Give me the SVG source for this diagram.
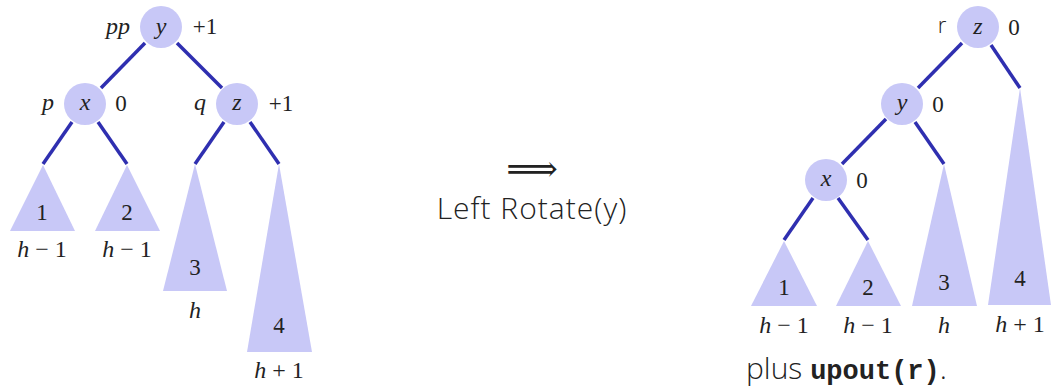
<svg xmlns="http://www.w3.org/2000/svg" width="1051" height="386" viewBox="0 0 1051 386">
<style>
.n{fill:#c8c8f7}
.t{fill:#c8c8f7}
.e{stroke:#2f2fb0;stroke-width:3.5;stroke-linecap:butt}
.m{font-family:"Liberation Serif","DejaVu Serif",serif;font-style:italic;font-size:24px;fill:#222;text-anchor:middle;dominant-baseline:central}
.r{font-family:"Liberation Serif","DejaVu Serif",serif;font-size:23px;fill:#222;text-anchor:middle;dominant-baseline:central}
.s{font-family:"Open Sans","Noto Sans",sans-serif;font-weight:300;font-size:30px;fill:#222}
.c{font-family:"Liberation Mono","DejaVu Sans Mono",monospace;font-weight:bold;font-size:27px;fill:#222}
</style>
<rect width="1051" height="386" fill="#fff"/>
<g id="connectors">
<line class="e" x1="145" y1="43" x2="101" y2="88"/>
<line class="e" x1="177" y1="43" x2="222" y2="88"/>
<line class="e" x1="72" y1="122" x2="43" y2="164"/>
<line class="e" x1="98" y1="122" x2="127" y2="164"/>
<line class="e" x1="224" y1="122" x2="195" y2="164"/>
<line class="e" x1="250" y1="122" x2="279" y2="164"/>
<line class="e" x1="962" y1="43" x2="918" y2="88"/>
<line class="e" x1="991" y1="45" x2="1020" y2="88"/>
<line class="e" x1="886" y1="119" x2="842" y2="164"/>
<line class="e" x1="915" y1="122" x2="944" y2="164"/>
<line class="e" x1="813" y1="198" x2="784" y2="240"/>
<line class="e" x1="838" y1="198" x2="868" y2="240"/>
</g>
<g id="left-y"><circle class="n" cx="161" cy="27" r="21"/><text class="m" x="161" y="26">y</text><text class="m" x="118" y="26">pp</text><text class="r" x="205" y="26">+1</text></g>
<g id="left-x"><circle class="n" cx="85" cy="104" r="21"/><text class="m" x="85" y="102">x</text><text class="m" x="48" y="102">p</text><text class="r" x="121" y="103">0</text></g>
<g id="left-z"><circle class="n" cx="237" cy="104" r="21"/><text class="m" x="237" y="102">z</text><text class="m" x="200" y="102">q</text><text class="r" x="281" y="103">+1</text></g>
<g id="left-t1"><polygon class="t" points="43,165 10,231 75,231"/><text class="r" x="42" y="212">1</text><text class="m" x="42" y="249">h<tspan font-style="normal"> − 1</tspan></text></g>
<g id="left-t2"><polygon class="t" points="127,165 95,231 160,231"/><text class="r" x="127" y="212">2</text><text class="m" x="127" y="249">h<tspan font-style="normal"> − 1</tspan></text></g>
<g id="left-t3"><polygon class="t" points="195,164 163,291 227,291"/><text class="r" x="195" y="267">3</text><text class="m" x="195" y="310">h</text></g>
<g id="left-t4"><polygon class="t" points="279,164 247,352 312,352"/><text class="r" x="279" y="325">4</text><text class="m" x="279" y="370">h<tspan font-style="normal"> + 1</tspan></text></g>
<g id="arrow"><text x="532" y="181" text-anchor="middle" font-family="DejaVu Serif,serif" font-size="36" fill="#222">⟹</text><text class="s" x="532" y="219" text-anchor="middle" style="letter-spacing:1px">Left Rotate(y)</text></g>
<g id="right-z"><circle class="n" cx="978" cy="27" r="21"/><text class="m" x="978" y="26">z</text><text class="s" x="942" y="33" text-anchor="middle" style="font-size:22px">r</text><text class="r" x="1014" y="27">0</text></g>
<g id="right-y"><circle class="n" cx="902" cy="104" r="21"/><text class="m" x="902" y="102">y</text><text class="r" x="938" y="104">0</text></g>
<g id="right-x"><circle class="n" cx="826" cy="180" r="21"/><text class="m" x="826" y="178">x</text><text class="r" x="862" y="180">0</text></g>
<g id="right-t1"><polygon class="t" points="784,241 751,306 817,306"/><text class="r" x="784" y="287">1</text><text class="m" x="784" y="325">h<tspan font-style="normal"> − 1</tspan></text></g>
<g id="right-t2"><polygon class="t" points="868,241 836,306 901,306"/><text class="r" x="868" y="287">2</text><text class="m" x="868" y="325">h<tspan font-style="normal"> − 1</tspan></text></g>
<g id="right-t3"><polygon class="t" points="944,164 912,306 977,306"/><text class="r" x="944" y="282">3</text><text class="m" x="944" y="325">h</text></g>
<g id="right-t4"><polygon class="t" points="1020,88 988,305 1051,305"/><text class="r" x="1020" y="278">4</text><text class="m" x="1020" y="324">h<tspan font-style="normal"> + 1</tspan></text></g>
<g id="caption"><text x="746" y="379"><tspan class="s">plus </tspan><tspan class="c">upout(r)</tspan><tspan class="s">.</tspan></text></g>
</svg>
